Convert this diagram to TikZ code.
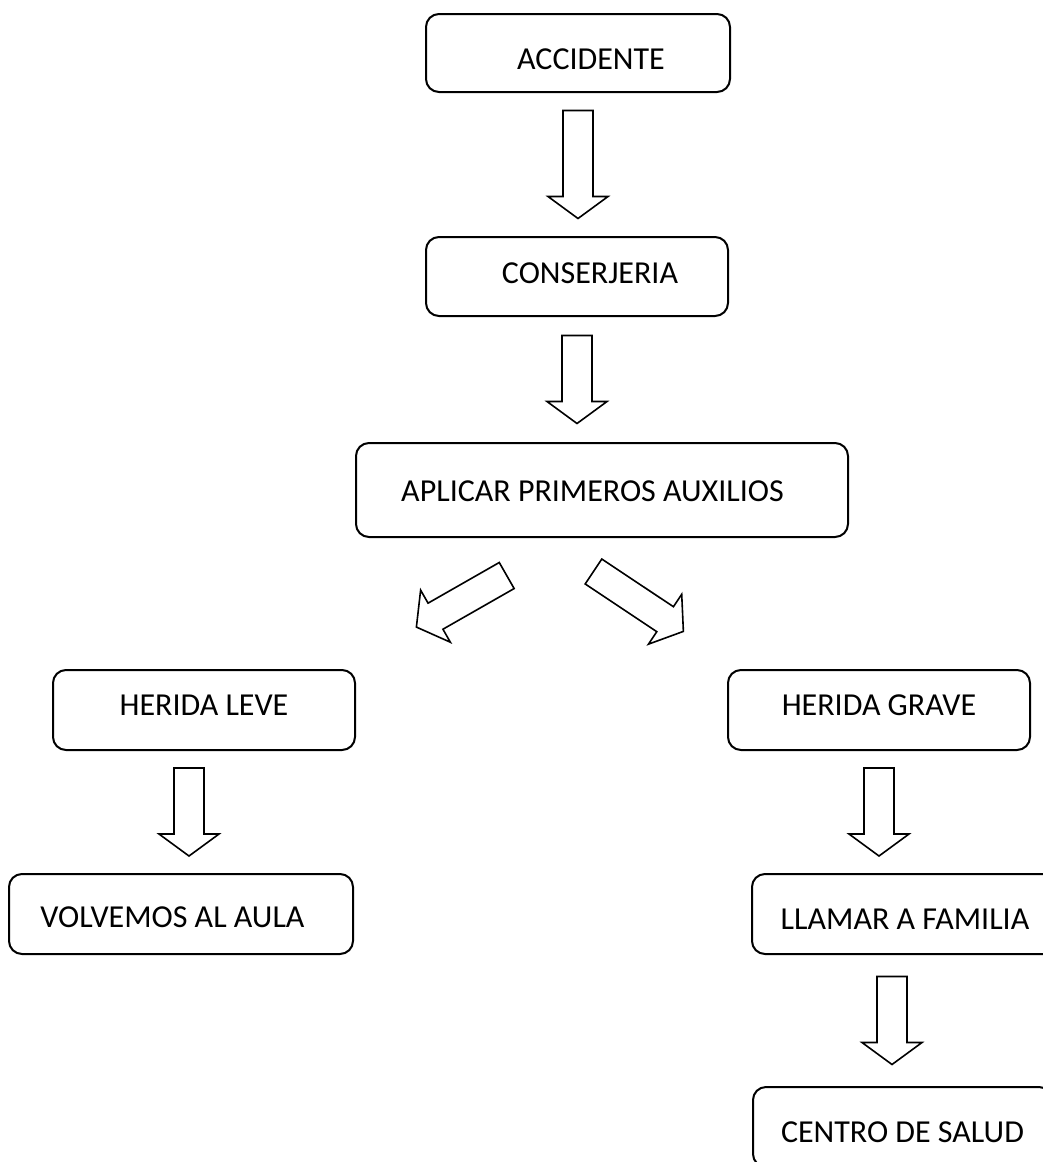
\documentclass[tikz,border=0pt]{standalone}
\usepackage{fontspec}
\setmainfont{Carlito}
\usetikzlibrary{calc}
\tikzset{
  box/.style={draw, rounded corners=6.5pt, line width=1pt, inner sep=0pt,
    text height=10.3pt, text depth=0pt, font=\fontsize{16}{19}\selectfont},
  blockarrow/.pic={
    \draw[line width=0.8pt, line join=miter]
      (-#1,15) -- (#1-22,15) -- (#1-22,30) -- (#1,0) -- (#1-22,-30) -- (#1-22,-15) -- (-#1,-15) -- cycle;
  },
  onpath/.style={midway, sloped, allow upside down}
}
\begin{document}
\begin{tikzpicture}[x=0.5pt, y=0.5pt]
      \useasboundingbox (0,0) rectangle (1043,-1162);
      \clip (0,0) rectangle (1043,-1162);
      % boxes
      \node[box, minimum width=152pt, minimum height=39pt] (acc) at (578,-53) {\hspace*{13pt}\raisebox{-3pt}{ACCIDENTE}};
      \node[box, minimum width=151pt, minimum height=39.5pt] (cons) at (577,-276.5) {\hspace*{13pt}\raisebox{1.75pt}{CONSERJERIA}};
      \node[box, minimum width=246pt, minimum height=47pt] (apl) at (602,-490) {\raisebox{-0.5pt}{APLICAR PRIMEROS AUXILIOS}\hspace*{9.5pt}};
      \node[box, minimum width=151pt, minimum height=40pt] (leve) at (204,-710) {\raisebox{2.5pt}{HERIDA LEVE}};
      \node[box, minimum width=151pt, minimum height=40pt] (grave) at (879,-710) {\raisebox{2.5pt}{HERIDA GRAVE}};
      \node[box, minimum width=172pt, minimum height=40pt] (aula) at (181,-914) {\raisebox{-1.5pt}{VOLVEMOS AL AULA}\hspace*{8.5pt}};
      \node[box, minimum width=153pt, minimum height=40pt] (familia) at (905,-914) {\raisebox{-2.5pt}{LLAMAR A FAMILIA}};
      \node[box, minimum width=149.5pt, minimum height=40pt] (salud) at (902.5,-1127) {\raisebox{-2.5pt}{CENTRO DE SALUD}};
      % diagonal arrow ends
      \coordinate (lt) at (508.5,-574.5);
      \coordinate (lh) at (414.6,-628.1);
      \coordinate (rt) at (593.5,-571.5);
      \coordinate (rh) at (683.4,-631.4);
      % arrows
      \path (acc.south) -- (acc.south |- cons.north) pic[onpath]{blockarrow=54};
      \path (cons.south) -- (cons.south |- apl.north) pic[onpath]{blockarrow=44};
      \path (lt) -- (lh) pic[onpath]{blockarrow=52};
      \path (rt) -- (rh) pic[onpath]{blockarrow=54};
      \path ($(leve.south)+(-15,0)$) -- ($(leve.south |- aula.north)+(-15,0)$) pic[onpath]{blockarrow=44};
      \path (grave.south) -- (grave.south |- familia.north) pic[onpath]{blockarrow=44};
      \path ($(familia.south)+(-13,0)$) -- ($(familia.south |- salud.north)+(-13,0)$) pic[onpath]{blockarrow=44};
\end{tikzpicture}
\end{document}
